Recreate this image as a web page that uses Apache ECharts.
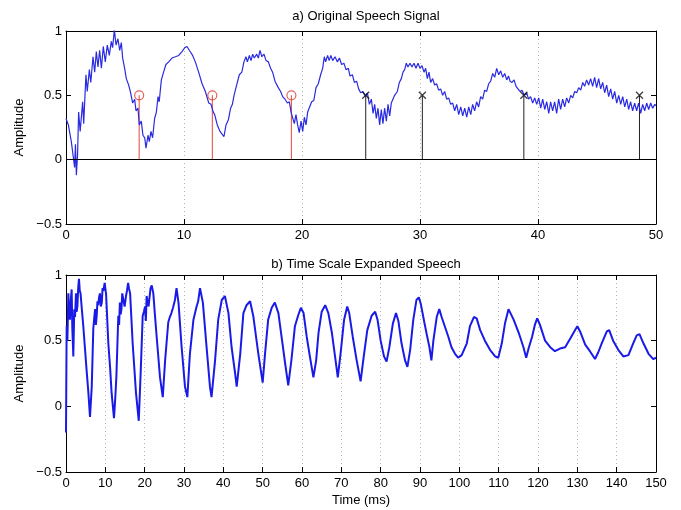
<!DOCTYPE html>
<html><head><meta charset="utf-8">
<script src="https://cdn.jsdelivr.net/npm/echarts@6/dist/echarts.min.js"></script>
<style>html,body{margin:0;padding:0;background:#fff}#c{width:681px;height:510px}</style>
</head><body><div id="c"></div>
<script>
// a) original speech signal: [time ms, amplitude]
var origSignal = [[0,0.32],[0.2,0.27],[0.45,0.14],[0.62,0.02],[0.73,-0.06],[0.8,0.12],[0.88,-0.12],[0.98,0.04],[1.07,0.37],[1.2,0.22],[1.41,0.45],[1.5,0.28],[1.69,0.66],[1.8,0.53],[1.98,0.70],[2.1,0.6],[2.29,0.80],[2.43,0.68],[2.57,0.84],[2.71,0.72],[2.85,0.85],[3.0,0.71],[3.16,0.88],[3.33,0.76],[3.5,0.89],[3.67,0.81],[3.84,0.92],[3.95,0.87],[4.1,1.01],[4.24,0.89],[4.4,0.94],[4.55,0.85],[4.69,0.91],[4.8,0.79],[4.97,0.71],[5.11,0.63],[5.31,0.58],[5.45,0.53],[5.65,0.44],[5.82,0.47],[5.93,0.38],[6.1,0.40],[6.21,0.27],[6.38,0.30],[6.52,0.19],[6.67,0.17],[6.78,0.09],[6.95,0.19],[7.06,0.14],[7.2,0.22],[7.34,0.17],[7.51,0.32],[7.66,0.37],[7.8,0.49],[7.9,0.45],[8.08,0.62],[8.27,0.68],[8.47,0.74],[8.7,0.76],[8.98,0.79],[9.27,0.80],[9.55,0.81],[9.83,0.84],[10.06,0.87],[10.25,0.88],[10.45,0.85],[10.73,0.81],[10.96,0.76],[11.24,0.68],[11.53,0.59],[11.81,0.53],[12.1,0.44],[12.29,0.43],[12.48,0.37],[12.6,0.35],[12.82,0.27],[13.05,0.22],[13.2,0.22],[13.39,0.18],[13.56,0.27],[13.76,0.31],[13.95,0.40],[14.1,0.43],[14.24,0.50],[14.46,0.58],[14.69,0.66],[14.9,0.68],[15.08,0.76],[15.25,0.80],[15.37,0.76],[15.54,0.81],[15.68,0.77],[15.82,0.82],[15.96,0.79],[16.16,0.82],[16.3,0.79],[16.44,0.85],[16.6,0.80],[16.78,0.82],[16.95,0.77],[17.15,0.76],[17.34,0.71],[17.51,0.68],[17.71,0.61],[17.85,0.62],[17.99,0.56],[18.19,0.53],[18.36,0.49],[18.56,0.47],[18.76,0.44],[18.93,0.45],[19.07,0.37],[19.21,0.36],[19.35,0.28],[19.49,0.35],[19.63,0.27],[19.77,0.21],[19.92,0.30],[20.06,0.22],[20.2,0.33],[20.34,0.27],[20.48,0.37],[20.62,0.36],[20.82,0.45],[21.0,0.46],[21.19,0.56],[21.38,0.59],[21.58,0.66],[21.75,0.71],[21.89,0.80],[22.0,0.76],[22.17,0.81],[22.3,0.77],[22.45,0.81],[22.6,0.77],[22.8,0.80],[23.0,0.76],[23.17,0.79],[23.36,0.74],[23.55,0.75],[23.73,0.70],[23.93,0.71],[24.07,0.65],[24.27,0.66],[24.44,0.60],[24.63,0.61],[24.8,0.55],[24.97,0.52],[25.17,0.53],[25.37,0.49],[25.54,0.52],[25.71,0.43],[25.88,0.47],[26.02,0.36],[26.16,0.43],[26.3,0.32],[26.44,0.40],[26.58,0.27],[26.72,0.39],[26.86,0.28],[27.0,0.40],[27.15,0.30],[27.29,0.43],[27.43,0.34],[27.57,0.44],[27.71,0.43],[27.85,0.50],[28.08,0.53],[28.25,0.60],[28.42,0.63],[28.56,0.68],[28.7,0.70],[28.84,0.75],[28.98,0.72],[29.15,0.75],[29.32,0.72],[29.49,0.75],[29.66,0.71],[29.83,0.75],[30.0,0.71],[30.17,0.73],[30.34,0.68],[30.48,0.71],[30.62,0.63],[30.76,0.68],[30.9,0.60],[31.07,0.63],[31.24,0.58],[31.41,0.59],[31.58,0.54],[31.75,0.55],[31.92,0.50],[32.09,0.53],[32.26,0.47],[32.43,0.48],[32.6,0.43],[32.77,0.44],[32.94,0.38],[33.11,0.43],[33.28,0.35],[33.45,0.41],[33.62,0.34],[33.79,0.40],[33.96,0.33],[34.13,0.41],[34.3,0.35],[34.46,0.43],[34.63,0.38],[34.8,0.45],[34.97,0.41],[35.14,0.49],[35.31,0.47],[35.48,0.54],[35.65,0.53],[35.82,0.59],[35.99,0.61],[36.16,0.67],[36.33,0.64],[36.5,0.71],[36.67,0.66],[36.84,0.69],[37.01,0.64],[37.18,0.67],[37.35,0.62],[37.5,0.65],[37.63,0.61],[37.8,0.60],[37.97,0.62],[38.14,0.57],[38.3,0.58],[38.47,0.53],[38.64,0.54],[38.84,0.50],[39.04,0.52],[39.2,0.47],[39.37,0.49],[39.55,0.44],[39.72,0.48],[39.89,0.43],[40.06,0.48],[40.23,0.40],[40.4,0.47],[40.57,0.39],[40.74,0.45],[40.91,0.36],[41.07,0.45],[41.24,0.38],[41.41,0.45],[41.58,0.36],[41.75,0.47],[41.92,0.39],[42.09,0.47],[42.26,0.41],[42.43,0.48],[42.6,0.44],[42.77,0.50],[42.94,0.48],[43.11,0.53],[43.28,0.52],[43.45,0.56],[43.62,0.54],[43.79,0.60],[43.95,0.57],[44.12,0.62],[44.29,0.58],[44.46,0.63],[44.63,0.57],[44.8,0.64],[44.97,0.56],[45.14,0.63],[45.31,0.55],[45.48,0.60],[45.65,0.52],[45.82,0.58],[45.99,0.49],[46.16,0.55],[46.33,0.47],[46.5,0.53],[46.67,0.44],[46.84,0.50],[47.01,0.43],[47.18,0.49],[47.35,0.41],[47.52,0.47],[47.68,0.39],[47.85,0.45],[48.02,0.38],[48.19,0.44],[48.36,0.38],[48.53,0.44],[48.7,0.36],[48.87,0.43],[49.04,0.38],[49.21,0.44],[49.38,0.39],[49.55,0.44],[49.72,0.40],[49.9,0.43],[50,0.42]];

// b) time scale expanded speech: [time ms, amplitude]
var expandedSignal = [[0,-0.2],[0.1,0.3],[0.17,0.61],[0.35,0.5],[0.6,0.86],[0.8,0.7],[1.0,0.66],[1.2,0.8],[1.44,0.89],[1.6,0.6],[1.86,0.38],[2.1,0.74],[2.3,0.68],[2.54,0.86],[2.7,0.72],[2.9,0.76],[3.1,0.9],[3.3,0.97],[3.5,0.88],[3.7,0.86],[4.0,0.75],[4.4,0.61],[4.8,0.45],[5.25,0.27],[5.7,0.1],[6.1,-0.08],[6.55,0.15],[6.94,0.59],[7.2,0.68],[7.4,0.74],[7.6,0.62],[7.8,0.69],[8.0,0.8],[8.2,0.77],[8.4,0.83],[8.64,0.86],[8.85,0.76],[9.1,0.79],[9.3,0.9],[9.5,0.88],[9.83,0.94],[10.2,0.85],[10.76,0.48],[11.2,0.3],[11.6,0.10],[12.2,-0.09],[12.5,0.05],[12.8,0.22],[13.3,0.69],[13.5,0.62],[13.7,0.79],[13.9,0.7],[14.1,0.74],[14.3,0.86],[14.6,0.81],[14.9,0.76],[15.25,0.84],[15.5,0.88],[15.8,0.94],[16.0,0.9],[16.3,0.86],[16.95,0.48],[17.8,0.10],[18.5,-0.11],[19.0,0.27],[19.5,0.69],[19.8,0.72],[20.1,0.76],[20.3,0.65],[20.5,0.84],[20.7,0.8],[21.0,0.76],[21.2,0.82],[21.5,0.90],[21.8,0.92],[22.2,0.86],[22.6,0.7],[23.05,0.53],[23.9,0.22],[24.6,0.07],[25.2,0.35],[26.0,0.64],[26.4,0.68],[26.8,0.71],[27.2,0.75],[27.7,0.81],[28.1,0.90],[28.6,0.79],[29.4,0.45],[30.25,0.15],[30.85,0.07],[31.5,0.40],[32.4,0.66],[33.2,0.76],[33.6,0.8],[34.07,0.90],[34.8,0.79],[35.8,0.43],[36.6,0.15],[37.0,0.07],[37.9,0.35],[38.7,0.66],[39.6,0.81],[40.4,0.84],[41.3,0.71],[42.1,0.45],[43.0,0.25],[43.4,0.15],[44.3,0.40],[45.1,0.71],[45.9,0.77],[46.8,0.80],[47.6,0.69],[48.9,0.40],[50.0,0.18],[50.6,0.40],[51.4,0.66],[52.3,0.75],[53.1,0.79],[53.5,0.80],[54.0,0.71],[54.8,0.53],[55.7,0.33],[56.5,0.16],[57.3,0.35],[58.2,0.61],[59.0,0.69],[59.7,0.75],[60.4,0.71],[61.2,0.53],[62.0,0.38],[62.9,0.22],[63.6,0.35],[64.2,0.56],[65.0,0.72],[65.9,0.77],[66.7,0.71],[67.6,0.56],[68.4,0.38],[69.1,0.22],[69.8,0.40],[70.7,0.66],[71.5,0.76],[72.0,0.71],[72.9,0.53],[73.9,0.35],[74.9,0.19],[75.7,0.38],[76.6,0.58],[77.7,0.69],[78.6,0.72],[79.2,0.66],[80.0,0.50],[80.85,0.38],[81.5,0.34],[82.2,0.45],[83.1,0.63],[83.9,0.71],[84.5,0.65],[85.3,0.48],[86.2,0.35],[86.8,0.30],[87.5,0.43],[88.3,0.66],[89.1,0.81],[89.7,0.83],[90.2,0.78],[91.1,0.64],[91.7,0.55],[92.4,0.45],[92.9,0.35],[93.4,0.50],[94.25,0.68],[94.9,0.74],[95.5,0.68],[96.3,0.61],[97.2,0.53],[98.0,0.45],[98.9,0.40],[99.7,0.37],[100.6,0.39],[101.9,0.48],[102.7,0.61],[103.7,0.68],[104.4,0.67],[105.3,0.58],[106.5,0.50],[107.8,0.43],[109.1,0.38],[109.9,0.37],[110.8,0.48],[111.6,0.63],[112.5,0.74],[112.9,0.75],[113.8,0.66],[115.1,0.56],[116.3,0.45],[117.0,0.37],[117.6,0.44],[118.5,0.53],[119.2,0.62],[119.8,0.67],[120.5,0.62],[121.8,0.50],[123.1,0.45],[124.3,0.42],[125.6,0.44],[126.9,0.45],[128.1,0.51],[129.4,0.58],[130.0,0.61],[130.7,0.57],[132.0,0.47],[133.2,0.42],[134.5,0.36],[135.3,0.41],[136.2,0.48],[137.5,0.57],[138.1,0.58],[139.1,0.50],[140.4,0.43],[141.7,0.38],[143.0,0.39],[144.2,0.48],[145.1,0.54],[145.8,0.55],[146.8,0.48],[148.1,0.40],[149.3,0.36],[150,0.37]];

// pitch marks (stems)
var redStemTimes = [6.2, 12.4, 19.1];
var blackStemTimes = [25.4, 30.2, 38.8, 48.6];
var stemHeight = 0.5;

var topXTicks = [0, 50, 10];      // min, max, interval
var bottomXTicks = [0, 150, 10];
var yTicks = [-0.5, 1, 0.5];

var FONT = 'Liberation Sans, Arial, Helvetica, sans-serif';
var FS = 13;
function stemData(ts){ return ts.map(function(t){ return [t, stemHeight]; }); }
function fmt(v){ return v < 0 ? '\u2212' + Math.abs(v) : String(v); }

function xAx(grid, rng, pos, labels, name){
  return {type:'value', gridIndex:grid, position:pos, min:rng[0], max:rng[1], interval:rng[2],
    axisLine:{show:true, onZero:false, lineStyle:{color:'#000', width:1}},
    axisTick:{show:true, inside:true, length:5, lineStyle:{color:'#000'}},
    axisLabel:{show:labels, color:'#000', fontSize:FS, fontFamily:FONT, margin:5, formatter:fmt},
    splitLine:{show:labels, lineStyle:{color:'#b4b4b4', type:[1,3], width:1}},
    name: name || '', nameLocation:'middle', nameGap:22,
    nameTextStyle:{color:'#000', fontSize:FS, fontFamily:FONT}};
}
function yAx(grid, pos, labels){
  return {type:'value', gridIndex:grid, position:pos, min:yTicks[0], max:yTicks[1], interval:yTicks[2],
    axisLine:{show:true, onZero:false, lineStyle:{color:'#000', width:1}},
    axisTick:{show:true, inside:true, length:5, lineStyle:{color:'#000'}},
    axisLabel:{show:labels, color:'#000', fontSize:FS, fontFamily:FONT, margin:4, formatter:fmt},
    splitLine:{show:false},
    name: labels ? 'Amplitude' : '', nameLocation:'middle', nameGap:38, nameRotate:90,
    nameTextStyle:{color:'#000', fontSize:FS, fontFamily:FONT}};
}

var chart = echarts.init(document.getElementById('c'), null, {renderer:'canvas'});
chart.setOption({
  animation:false,
  backgroundColor:'#fff',
  title:[
    {text:'a) Original Speech Signal', left:361, top:5, textAlign:'center',
     textStyle:{fontSize:FS, fontWeight:'normal', color:'#000', fontFamily:FONT}},
    {text:'b) Time Scale Expanded Speech', left:361, top:253, textAlign:'center',
     textStyle:{fontSize:FS, fontWeight:'normal', color:'#000', fontFamily:FONT}}
  ],
  grid:[{left:66, right:25, top:31, height:193}, {left:66, right:25, top:275, height:197}],
  xAxis:[xAx(0, topXTicks, 'bottom', true), xAx(0, topXTicks, 'top', false),
         xAx(1, bottomXTicks, 'bottom', true, 'Time (ms)'), xAx(1, bottomXTicks, 'top', false)],
  yAxis:[yAx(0, 'left', true), yAx(0, 'right', false), yAx(1, 'left', true), yAx(1, 'right', false)],
  series:[
    {type:'line', xAxisIndex:0, yAxisIndex:0, data:origSignal, showSymbol:false, symbol:'none',
     lineStyle:{color:'#2a2ae0', width:1.2}, z:3,
     markLine:{silent:true, symbol:'none', label:{show:false},
       lineStyle:{color:'#000', type:'solid', width:1}, data:[{yAxis:0}]}},
    {type:'bar', xAxisIndex:0, yAxisIndex:0, data:stemData(redStemTimes), barWidth:1,
     itemStyle:{color:'#e04a3c'}, z:2},
    {type:'bar', xAxisIndex:0, yAxisIndex:0, data:stemData(blackStemTimes), barWidth:1, barGap:'-100%',
     itemStyle:{color:'#222'}, z:2},
    {type:'scatter', xAxisIndex:0, yAxisIndex:0, data:stemData(redStemTimes), symbol:'circle', symbolSize:9,
     itemStyle:{color:'rgba(0,0,0,0)', borderColor:'#e03a30', borderWidth:1.2}, z:4},
    {type:'scatter', xAxisIndex:0, yAxisIndex:0, data:stemData(blackStemTimes),
     symbol:'path://M0,0L10,10M10,0L0,10', symbolSize:7,
     itemStyle:{color:'rgba(0,0,0,0)', borderColor:'#111', borderWidth:1.3}, z:4},
    {type:'line', xAxisIndex:2, yAxisIndex:2, data:expandedSignal, showSymbol:false, symbol:'none',
     lineStyle:{color:'#1a1ae8', width:2}, z:3}
  ]
});
</script>
</body></html>
